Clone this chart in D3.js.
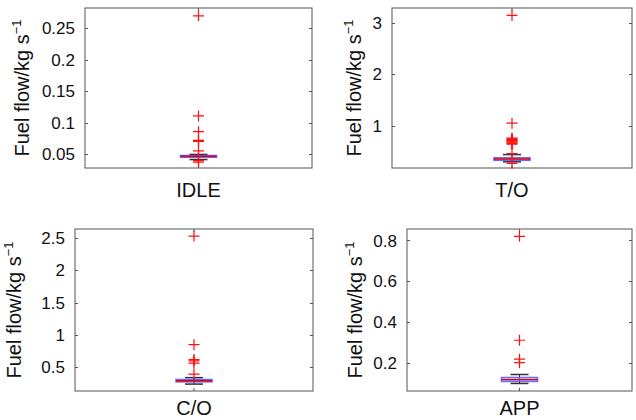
<!DOCTYPE html>
<html lang="en">
<head>
  <meta charset="utf-8">
  <title>Fuel flow box plots</title>
  <script src="https://d3js.org/d3.v7.min.js"></script>
  <style>
    body { margin: 0; background: #fff; }
    svg { display: block; font-family: "Liberation Sans", Arial, Helvetica, sans-serif; }
  </style>
</head>
<body>
  <svg width="636" height="420"></svg>
  <script>
    // values (kg/s)
    const phases = ["IDLE", "T/O", "C/O", "APP"];
    const medians = [0.0462, 0.354, 0.292, 0.117];
    const q1 = [0.0446, 0.330, 0.275, 0.108];
    const q3 = [0.0475, 0.378, 0.310, 0.127];
    const whiskerLow = [0.0410, 0.300, 0.240, 0.098];
    const whiskerHigh = [0.0492, 0.440, 0.340, 0.142];
    const outliers = [
      [0.27, 0.1105, 0.0855, 0.0715, 0.0700, 0.0548, 0.0393, 0.0370],
      [3.14, 1.05, 0.76, 0.745, 0.73, 0.715, 0.70, 0.685, 0.67, 0.655, 0.645, 0.46, 0.27],
      [2.53, 0.85, 0.62, 0.60, 0.565, 0.395],
      [0.82, 0.31, 0.217, 0.20]
    ];
    const yLimits = [[0.0276, 0.2824], [0.18, 3.285], [0.133, 2.64], [0.061, 0.856]];
    const yTicks = [
      [0.05, 0.1, 0.15, 0.2, 0.25],
      [1, 2, 3],
      [0.5, 1, 1.5, 2, 2.5],
      [0.2, 0.4, 0.6, 0.8]
    ];

    // axes boxes in page pixels
    const layout = [
      { left: 85, right: 312, top: 8, bottom: 168, labelX: 29, xLabelY: 197 },
      { left: 392, right: 632, top: 8, bottom: 168, labelX: 361, xLabelY: 197 },
      { left: 75, right: 313, top: 229, bottom: 391, labelX: 21, xLabelY: 415 },
      { left: 407, right: 632, top: 229, bottom: 391, labelX: 362, xLabelY: 415 }
    ];

    const svg = d3.select("svg");
    const boxW = 36, capW = 18, mark = 5.5, tickLen = 3;

    phases.forEach((name, i) => {
      const L = layout[i];
      const g = svg.append("g");
      const y = d3.scaleLinear().domain(yLimits[i]).range([L.bottom, L.top]);
      const x = d3.scalePoint().domain([name]).range([L.left, L.right]).padding(0.5);
      const cx = x(name);

      // frame
      g.append("rect")
        .attr("x", L.left).attr("y", L.top)
        .attr("width", L.right - L.left).attr("height", L.bottom - L.top)
        .attr("fill", "none").attr("stroke", "#555").attr("stroke-width", 1);

      // y ticks, inside on both sides
      yTicks[i].forEach(t => {
        const ty = Math.round(y(t)) + 0.5;
        g.append("line").attr("x1", L.left).attr("x2", L.left + tickLen)
          .attr("y1", ty).attr("y2", ty).attr("stroke", "#555");
        g.append("line").attr("x1", L.right).attr("x2", L.right - tickLen)
          .attr("y1", ty).attr("y2", ty).attr("stroke", "#555");
        g.append("text").attr("x", L.left - 10).attr("y", y(t))
          .attr("dy", "0.36em").attr("text-anchor", "end")
          .attr("font-size", 17).attr("fill", "#111").text(String(t));
      });

      // x tick at the box position
      g.append("line").attr("x1", cx).attr("x2", cx)
        .attr("y1", L.bottom).attr("y2", L.bottom - tickLen).attr("stroke", "#555");
      g.append("line").attr("x1", cx).attr("x2", cx)
        .attr("y1", L.top).attr("y2", L.top + tickLen).attr("stroke", "#555");

      g.append("text").attr("x", cx).attr("y", L.xLabelY)
        .attr("text-anchor", "middle").attr("font-size", 20).attr("fill", "#111")
        .text(name);

      const yl = g.append("text")
        .attr("transform", `translate(${L.labelX},${(L.top + L.bottom) / 2}) rotate(-90)`)
        .attr("text-anchor", "middle").attr("font-size", 20).attr("fill", "#111");
      yl.append("tspan").text("Fuel flow/kg s");
      yl.append("tspan").attr("font-size", 13).attr("dy", -8).text("\u22121");

      // whiskers
      g.append("line").attr("x1", cx).attr("x2", cx)
        .attr("y1", y(whiskerHigh[i])).attr("y2", y(whiskerLow[i]))
        .attr("stroke", "#333").attr("stroke-width", 1);
      [whiskerLow[i], whiskerHigh[i]].forEach(v => {
        g.append("line").attr("x1", cx - capW / 2).attr("x2", cx + capW / 2)
          .attr("y1", y(v)).attr("y2", y(v))
          .attr("stroke", "#333").attr("stroke-width", 1.5);
      });

      // box and median
      g.append("rect")
        .attr("x", cx - boxW / 2).attr("y", y(q3[i]))
        .attr("width", boxW).attr("height", y(q1[i]) - y(q3[i]))
        .attr("fill", "#c9ccff").attr("fill-opacity", 0.6)
        .attr("stroke", "#3b3bff").attr("stroke-opacity", 0.75).attr("stroke-width", 1.6);
      g.append("line").attr("x1", cx - boxW / 2).attr("x2", cx + boxW / 2)
        .attr("y1", y(medians[i])).attr("y2", y(medians[i]))
        .attr("stroke", "#e00000").attr("stroke-width", 1.4);

      // outliers as red plus signs
      const o = g.append("g").attr("stroke", "#ff1010").attr("stroke-width", 1.2);
      outliers[i].forEach(v => {
        o.append("path")
          .attr("d", `M${cx - mark},${y(v)}H${cx + mark}M${cx},${y(v) - mark}V${y(v) + mark}`);
      });
    });
  </script>
</body>
</html>
